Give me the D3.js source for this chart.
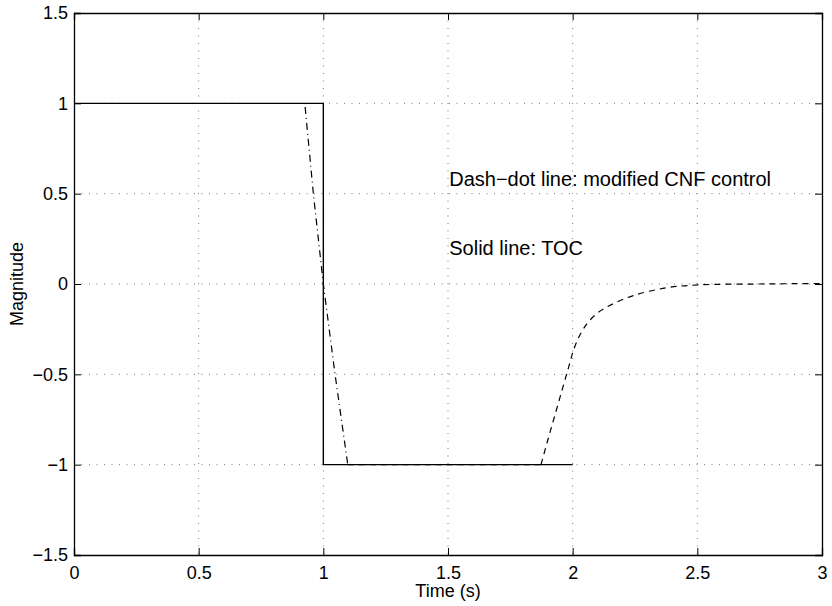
<!DOCTYPE html>
<html>
<head>
<meta charset="utf-8">
<script src="https://cdn.jsdelivr.net/npm/d3@7"></script>
<style>
  html, body { margin: 0; padding: 0; background: #fff; }
  text { font-family: "Liberation Sans", Arial, Helvetica, sans-serif; fill: #000; }
</style>
</head>
<body>
<svg id="chart" width="832" height="606"></svg>
<script>
// Data
const xTicks = [0, 0.5, 1, 1.5, 2, 2.5, 3];
const yTicks = [-1.5, -1, -0.5, 0, 0.5, 1, 1.5];
const xTickLabels = ["0", "0.5", "1", "1.5", "2", "2.5", "3"];
const yTickLabels = ["\u22121.5", "\u22121", "\u22120.5", "0", "0.5", "1", "1.5"];

// TOC (solid, bang-bang)
const tocT = [0, 1, 1, 2];
const tocU = [1, 1, -1, -1];

// Modified CNF control: switching part (dash-dot)
const cnfSwitchT = [0.927, 0.96, 1.0, 1.047, 1.098];
const cnfSwitchU = [0.98, 0.5, 0.0, -0.5, -1.0];
// Modified CNF control: saturated part (under the TOC line)
const cnfSatT = [1.098, 1.873];
const cnfSatU = [-1.0, -1.0];
// Modified CNF control: recovery part (dashed)
const cnfRecT = [1.873, 1.90, 1.93, 1.96, 1.985, 2.005, 2.03, 2.06, 2.10, 2.15, 2.243, 2.377, 2.504, 2.75, 3.0];
const cnfRecU = [-1.0, -0.865, -0.72, -0.575, -0.455, -0.36, -0.28, -0.215, -0.16, -0.118, -0.064, -0.021, -0.005, 0.0, 0.003];

const annotations = ["Dash\u2212dot line: modified CNF control", "Solid line: TOC"];
const annotationY = [0.58, 0.2];
const xLabel = "Time (s)";
const yLabel = "Magnitude";

// Layout
const L = 74, R = 822, T = 13, B = 555;
const svg = d3.select("#chart");
const x = d3.scaleLinear().domain([0, 3]).range([L, R]);
const y = d3.scaleLinear().domain([-1.5, 1.5]).range([B, T]);

// Grid
const grid = svg.append("g");
grid.selectAll("line.gx").data(xTicks.slice(1, -1)).enter().append("line")
  .attr("x1", d => x(d)).attr("x2", d => x(d)).attr("y1", T).attr("y2", B)
  .attr("stroke", "#777").attr("stroke-width", 1).attr("stroke-dasharray", "1,6.5");
grid.selectAll("line.gy").data(yTicks.slice(1, -1)).enter().append("line")
  .attr("y1", d => y(d)).attr("y2", d => y(d)).attr("x1", L).attr("x2", R)
  .attr("stroke", "#777").attr("stroke-width", 1).attr("stroke-dasharray", "1,6.5");

// Axes (ticks inward on all four sides)
const tl = 7;
const fmtX = (d, i) => xTickLabels[i];
const fmtY = (d, i) => yTickLabels[i];
const axB = svg.append("g").attr("transform", `translate(0,${B})`)
  .call(d3.axisBottom(x).tickValues(xTicks).tickFormat(fmtX).tickSize(-tl).tickPadding(11));
const axT = svg.append("g").attr("transform", `translate(0,${T})`)
  .call(d3.axisTop(x).tickValues(xTicks).tickFormat("").tickSize(-tl));
const axL = svg.append("g").attr("transform", `translate(${L},0)`)
  .call(d3.axisLeft(y).tickValues(yTicks).tickFormat(fmtY).tickSize(-tl).tickPadding(6));
const axR = svg.append("g").attr("transform", `translate(${R},0)`)
  .call(d3.axisRight(y).tickValues(yTicks).tickFormat("").tickSize(-tl));
[axB, axT, axL, axR].forEach(a => {
  a.select(".domain").attr("stroke", "#000").attr("stroke-width", 1.3);
  a.selectAll(".tick line").attr("stroke", "#000").attr("stroke-width", 1);
  a.selectAll(".tick text").style("font-size", "18px").attr("fill", "#000")
    .style("font-family", '"Liberation Sans", Arial, sans-serif');
});

// Lines
const line = d3.line().x(d => x(d[0])).y(d => y(d[1]));
const smooth = d3.line().curve(d3.curveCatmullRom.alpha(0.5)).x(d => x(d[0])).y(d => y(d[1]));
svg.append("path").datum(cnfSatT.map((t, i) => [t, cnfSatU[i]]))
  .attr("d", line).attr("fill", "none").attr("stroke", "#000").attr("stroke-width", 1.2)
  .attr("stroke-dasharray", "6,5");
svg.append("path").datum(tocT.map((t, i) => [t, tocU[i]]))
  .attr("d", line).attr("fill", "none").attr("stroke", "#000").attr("stroke-width", 1.4);
svg.append("path").datum(cnfSwitchT.map((t, i) => [t, cnfSwitchU[i]]))
  .attr("d", line).attr("fill", "none").attr("stroke", "#000").attr("stroke-width", 1.2)
  .attr("stroke-dasharray", "7,4,1,4");
svg.append("path").datum(cnfRecT.map((t, i) => [t, cnfRecU[i]]))
  .attr("d", smooth).attr("fill", "none").attr("stroke", "#000").attr("stroke-width", 1.2)
  .attr("stroke-dasharray", "6,5");

// Annotations
svg.selectAll("text.ann").data(annotations).enter().append("text")
  .attr("x", x(1.505)).attr("y", (d, i) => y(annotationY[i]) + 7)
  .style("font-size", "20px").text(d => d);

// Axis labels
svg.append("text").attr("x", (L + R) / 2).attr("y", 597).attr("text-anchor", "middle")
  .style("font-size", "18px").text(xLabel);
svg.append("text").attr("transform", `translate(23,${(T + B) / 2}) rotate(-90)`)
  .attr("text-anchor", "middle").style("font-size", "18px").text(yLabel);
</script>
</body>
</html>
